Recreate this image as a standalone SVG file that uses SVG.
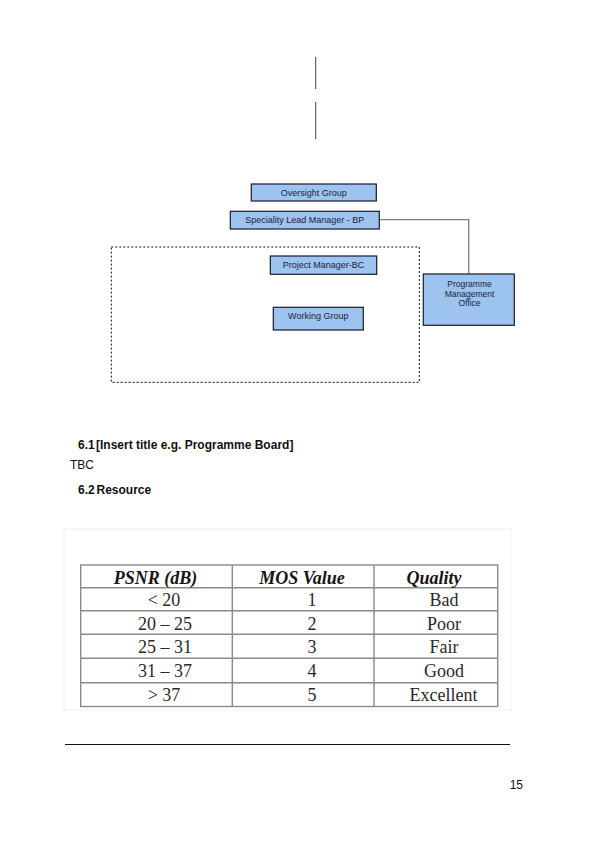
<svg xmlns="http://www.w3.org/2000/svg" width="595" height="842" viewBox="0 0 595 842">
  <style>
    .node rect { fill: #9dc3ef; stroke: #1a1a2a; stroke-width: 1.2; }
    .node text { font-family: "Liberation Sans", Arial, sans-serif; font-size: 9px; fill: #1a1f3a; text-anchor: middle; }
    .conn { fill: none; stroke: #808080; stroke-width: 1.3; }
    .vline { stroke: #444; stroke-width: 1; }
    .head { font-family: "Liberation Sans", Arial, sans-serif; font-size: 12px; font-weight: bold; fill: #111; }
    .body { font-family: "Liberation Sans", Arial, sans-serif; font-size: 12px; fill: #111; }
    .tgrid { stroke: #8a8a8a; stroke-width: 1.4; fill: none; }
    .th { font-family: "Liberation Serif", "Times New Roman", serif; font-size: 18px; font-weight: bold; font-style: italic; fill: #151515; text-anchor: middle; }
    .td { font-family: "Liberation Serif", "Times New Roman", serif; font-size: 18px; fill: #2a2a2a; text-anchor: middle; }
  </style>
  <rect width="595" height="842" fill="#ffffff"/>

  <!-- top vertical lines -->
  <line class="vline" x1="315.7" y1="57" x2="315.7" y2="89"/>
  <line class="vline" x1="315.7" y1="102" x2="315.7" y2="139"/>

  <!-- dashed boundary -->
  <rect id="boundary" x="111.3" y="247" width="308" height="135.3" fill="none" stroke="#111" stroke-width="1" stroke-dasharray="2,2"/>

  <g id="connectors">
    <polyline class="conn" points="379.3,219.7 468.7,219.7 468.7,274"/>
  </g>

  <g id="oversight-group" class="node">
    <rect x="251.3" y="184" width="125" height="17"/>
    <text x="313.8" y="195.5">Oversight Group</text>
  </g>
  <g id="speciality-lead" class="node">
    <rect x="230.3" y="211.3" width="149" height="17.7"/>
    <text x="304.8" y="223.3">Speciality Lead Manager - BP</text>
  </g>
  <g id="project-manager" class="node">
    <rect x="270.3" y="256" width="106.4" height="18.3"/>
    <text x="323.5" y="268.3">Project Manager-BC</text>
  </g>
  <g id="working-group" class="node">
    <rect x="273.3" y="307.3" width="90" height="22.7"/>
    <text x="318.3" y="319.2">Working Group</text>
  </g>
  <g id="pmo" class="node">
    <rect x="423.3" y="274" width="91" height="51.3"/>
    <text x="469.5" y="286.5" style="font-size:8.5px">Programme</text>
    <text x="469.5" y="296.5" style="font-size:8.5px">Management</text>
    <text x="469.5" y="306.3" style="font-size:8.5px">Office</text>
  </g>

  <!-- headings -->
  <text class="head" x="78" y="448.5">6.1</text>
  <text class="head" x="96" y="448.5">[Insert title e.g. Programme Board]</text>
  <text class="body" x="70" y="468.5">TBC</text>
  <text class="head" x="78" y="494">6.2</text>
  <text class="head" x="96.5" y="494">Resource</text>

  <!-- table image -->
  <rect x="64" y="529" width="447" height="181" fill="none" stroke="#f0f0f0" stroke-width="1"/>
  <g id="table">
    <rect class="tgrid" x="80.7" y="565" width="417" height="141.5"/>
    <line class="tgrid" x1="80.7" y1="587.7" x2="497.7" y2="587.7"/>
    <line class="tgrid" x1="80.7" y1="610.7" x2="497.7" y2="610.7"/>
    <line class="tgrid" x1="80.7" y1="634.3" x2="497.7" y2="634.3"/>
    <line class="tgrid" x1="80.7" y1="658.3" x2="497.7" y2="658.3"/>
    <line class="tgrid" x1="80.7" y1="682.7" x2="497.7" y2="682.7"/>
    <line class="tgrid" x1="232.3" y1="565" x2="232.3" y2="706.5"/>
    <line class="tgrid" x1="374" y1="565" x2="374" y2="706.5"/>

    <text class="th" x="155.5" y="583.5">PSNR (dB)</text>
    <text class="th" x="302" y="583.5">MOS Value</text>
    <text class="th" x="434" y="583.5">Quality</text>

    <text class="td" x="164" y="606">&lt; 20</text>
    <text class="td" x="312" y="606">1</text>
    <text class="td" x="444" y="606">Bad</text>

    <text class="td" x="165" y="629.5">20 – 25</text>
    <text class="td" x="312" y="629.5">2</text>
    <text class="td" x="444" y="629.5">Poor</text>

    <text class="td" x="165" y="653">25 – 31</text>
    <text class="td" x="312" y="653">3</text>
    <text class="td" x="444" y="653">Fair</text>

    <text class="td" x="165" y="677">31 – 37</text>
    <text class="td" x="312" y="677">4</text>
    <text class="td" x="444" y="677">Good</text>

    <text class="td" x="164" y="701">&gt; 37</text>
    <text class="td" x="312" y="701">5</text>
    <text class="td" x="443.5" y="701">Excellent</text>
  </g>

  <!-- footer -->
  <line x1="65" y1="744.5" x2="510" y2="744.5" stroke="#111" stroke-width="1"/>
  <text x="523" y="789" style="font-family:'Liberation Sans', Arial, sans-serif; font-size:12px; fill:#111; text-anchor:end">15</text>
</svg>
